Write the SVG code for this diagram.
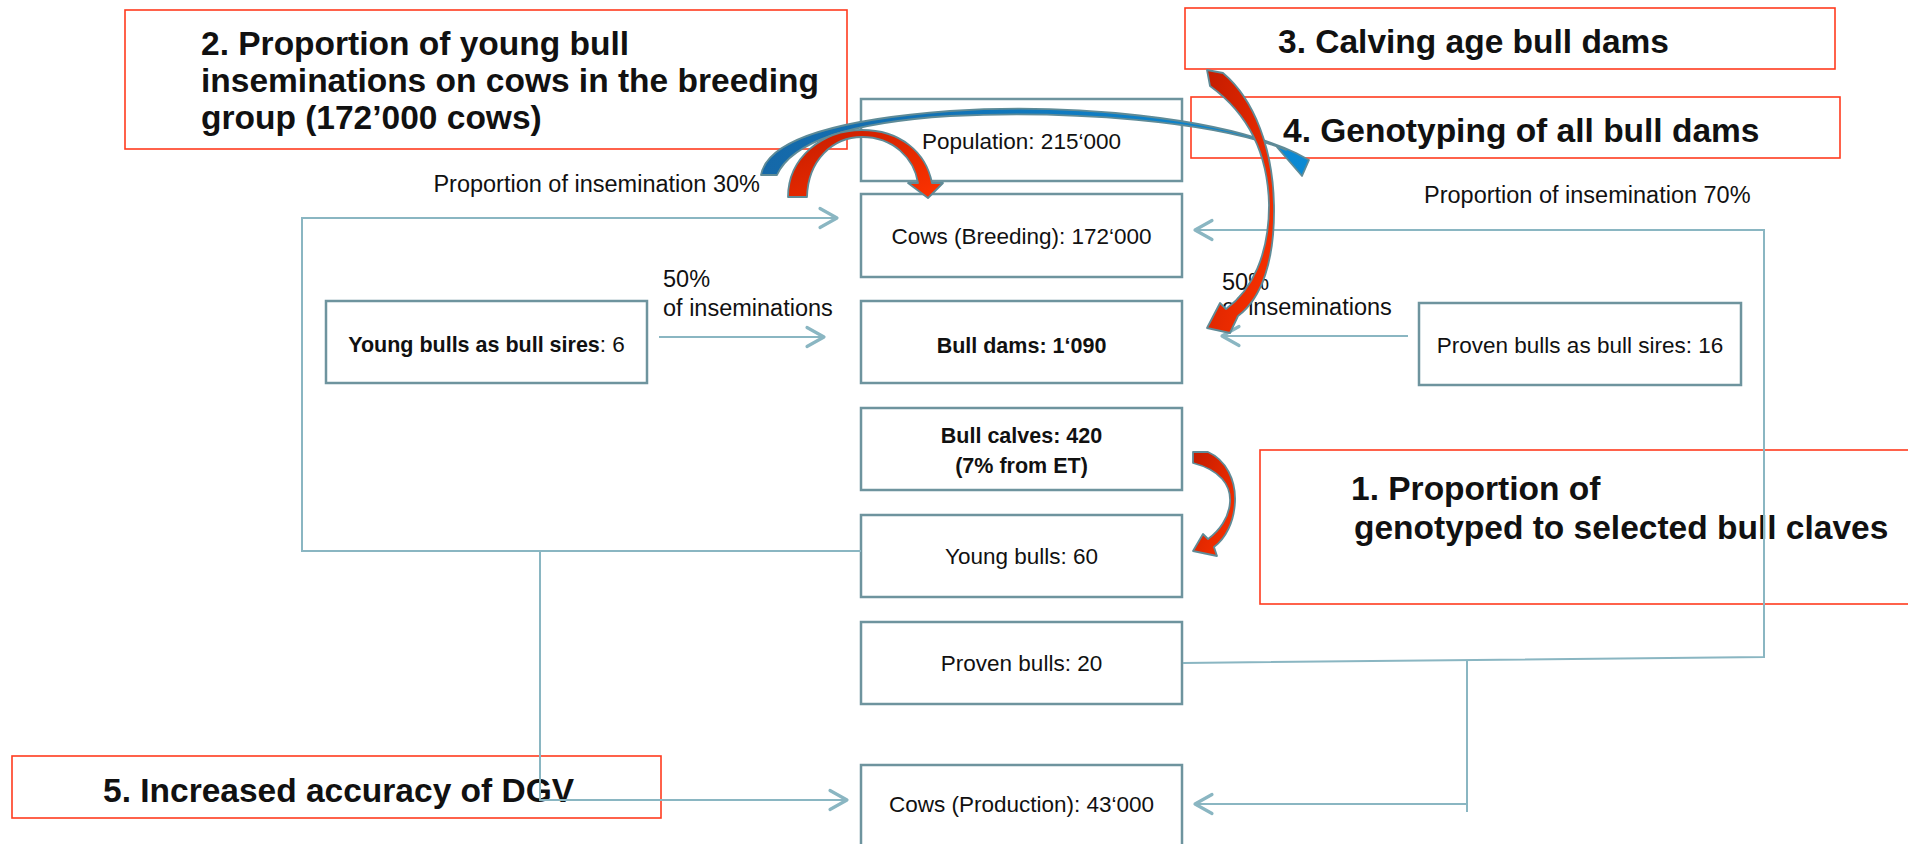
<svg xmlns="http://www.w3.org/2000/svg" width="1908" height="844" viewBox="0 0 1908 844">
<style>
  .node rect { fill: #ffffff; stroke: #6e949e; stroke-width: 2.5; }
  .note rect { fill: none; stroke: #ff3b1f; stroke-width: 1.6; }
  .t { font-family: "Liberation Sans", Arial, sans-serif; font-size: 22.5px; fill: #111111; }
  .tb { font-family: "Liberation Sans", Arial, sans-serif; font-size: 21.5px; font-weight: bold; fill: #111111; }
  .lbl { font-family: "Liberation Sans", Arial, sans-serif; font-size: 23.5px; fill: #111111; }
  .big { font-family: "Liberation Sans", Arial, sans-serif; font-size: 33.5px; font-weight: bold; fill: #111111; }
  .conn { fill: none; stroke: #8ab6c2; stroke-width: 2; }
  .red { fill: url(#gRed); stroke: #5f8b97; stroke-width: 1.8; stroke-linejoin: round; }
  .blue { fill: url(#gBlue); stroke: #5f8b97; stroke-width: 1.8; stroke-linejoin: round; }
</style>
<defs>
  <marker id="ah" markerUnits="userSpaceOnUse" markerWidth="22" markerHeight="22" refX="18" refY="11" orient="auto" overflow="visible">
    <path d="M1,1.5 L18,11 L1,20.5" fill="none" stroke="#8ab6c2" stroke-width="3.2" stroke-linecap="round" stroke-linejoin="round"/>
  </marker>
  <linearGradient id="gRed" x1="0" y1="0" x2="1" y2="1">
    <stop offset="0" stop-color="#c41c00"/>
    <stop offset="1" stop-color="#ff3300"/>
  </linearGradient>
  <linearGradient id="gBlue" x1="0" y1="0" x2="1" y2="0">
    <stop offset="0" stop-color="#1568a8"/>
    <stop offset="1" stop-color="#0b8ad4"/>
  </linearGradient>
</defs>
<rect x="0" y="0" width="1908" height="844" fill="#ffffff"/>

<!-- annotation boxes -->
<g id="note2" class="note">
  <rect x="125" y="10" width="722" height="139"/>
  <text class="big" x="201" y="55">2. Proportion of young bull</text>
  <text class="big" x="201" y="92">inseminations on cows in the breeding</text>
  <text class="big" x="201" y="129">group (172’000 cows)</text>
</g>
<g id="note3" class="note">
  <rect x="1185" y="8" width="650" height="61"/>
  <text class="big" x="1278" y="53">3. Calving age bull dams</text>
</g>
<g id="note4" class="note">
  <rect x="1191" y="97" width="649" height="61"/>
  <text class="big" x="1283" y="142">4. Genotyping of all bull dams</text>
</g>
<g id="note1" class="note">
  <rect x="1260" y="450" width="660" height="154"/>
  <text class="big" x="1351" y="500">1. Proportion of</text>
  <text class="big" x="1354" y="539">genotyped to selected bull claves</text>
</g>
<g id="note5" class="note">
  <rect x="12" y="756" width="649" height="62"/>
  <text class="big" x="103" y="802">5. Increased accuracy of DGV</text>
</g>

<!-- nodes -->
<g id="population" class="node">
  <rect x="861" y="99" width="321" height="82"/>
  <text class="t" x="1021.5" y="149" text-anchor="middle">Population: 215‘000</text>
</g>
<g id="cows-breeding" class="node">
  <rect x="861" y="194" width="321" height="83"/>
  <text class="t" x="1021.5" y="244" text-anchor="middle">Cows (Breeding): 172‘000</text>
</g>
<g id="bull-dams" class="node">
  <rect x="861" y="301" width="321" height="82"/>
  <text class="tb" x="1021.5" y="353" text-anchor="middle">Bull dams: 1‘090</text>
</g>
<g id="bull-calves" class="node">
  <rect x="861" y="408" width="321" height="82"/>
  <text class="tb" x="1021.5" y="443" text-anchor="middle">Bull calves: 420</text>
  <text class="tb" x="1021.5" y="473" text-anchor="middle">(7% from ET)</text>
</g>
<g id="young-bulls" class="node">
  <rect x="861" y="515" width="321" height="82"/>
  <text class="t" x="1021.5" y="564" text-anchor="middle">Young bulls: 60</text>
</g>
<g id="proven-bulls" class="node">
  <rect x="861" y="622" width="321" height="82"/>
  <text class="t" x="1021.5" y="671" text-anchor="middle">Proven bulls: 20</text>
</g>
<g id="cows-production" class="node">
  <rect x="861" y="765" width="321" height="90"/>
  <text class="t" x="1021.5" y="812" text-anchor="middle">Cows (Production): 43‘000</text>
</g>
<g id="young-sires" class="node">
  <rect x="326" y="301" width="321" height="82"/>
  <text class="t" x="486.5" y="352" text-anchor="middle"><tspan font-weight="bold" font-size="21.5px">Young bulls as bull sires</tspan>: 6</text>
</g>
<g id="proven-sires" class="node">
  <rect x="1419" y="303" width="322" height="82"/>
  <text class="t" x="1580" y="353" text-anchor="middle">Proven bulls as bull sires: 16</text>
</g>

<!-- connectors -->
<g id="connectors">
  <polyline class="conn" points="861,551 302,551 302,218 837,218" marker-end="url(#ah)"/>
  <polyline class="conn" points="540,551 540,800 847,800" marker-end="url(#ah)"/>
  <polyline class="conn" points="1183,663 1764,657 1764,230 1195,230" marker-end="url(#ah)"/>
  <line class="conn" x1="1467" y1="660" x2="1467" y2="812"/>
  <line class="conn" x1="1467" y1="804" x2="1195" y2="804" marker-end="url(#ah)"/>
  <line class="conn" x1="659" y1="337" x2="824" y2="337" marker-end="url(#ah)"/>
  <line class="conn" x1="1408" y1="336" x2="1222" y2="336" marker-end="url(#ah)"/>
  <text class="lbl" x="760" y="192" text-anchor="end">Proportion of insemination 30%</text>
  <text class="lbl" x="1424" y="203">Proportion of insemination 70%</text>
  <text class="lbl" x="663" y="287">50%</text>
  <text class="lbl" x="663" y="316">of inseminations</text>
  <text class="lbl" x="1222" y="290">50%</text>
  <text class="lbl" x="1222" y="315">of inseminations</text>
</g>

<!-- curved highlight arrows -->
<g id="curved-arrows">
  <path id="arrow-blue" class="blue" d="M761,175 C767,142 830,120 950,111 C1070,103 1220,117 1296,153 L1309,160 L1302,176 L1276,146 L1286,150 C1215,121 1070,110 950,116 C840,123 790,146 777,175 Z"/>
  <path id="arrow-red2" class="red" d="M788,197 C788,158 822,130 862,130 C900,130 926,152 932,183 L943,183 L928,198 L908,183 L918,183 C914,158 893,137 862,137 C833,137 808,160 807,197 Z"/>
  <path id="arrow-red3" class="red" d="M1207,70 L1223,73 C1255,100 1273,150 1274,205 C1275,260 1262,298 1238,316 L1230,333 L1207,328 L1220,303 L1226,309 C1252,290 1269,255 1269,205 C1268,155 1250,115 1210,86 Z"/>
  <path id="arrow-red1" class="red" d="M1193,452 L1208,452 C1226,460 1236,480 1235,502 C1234,522 1226,538 1214,547 L1217,556 L1193,551 L1203,534 L1208,539 C1219,531 1229,518 1230,502 C1231,485 1220,470 1193,463 Z"/>
</g>
</svg>
